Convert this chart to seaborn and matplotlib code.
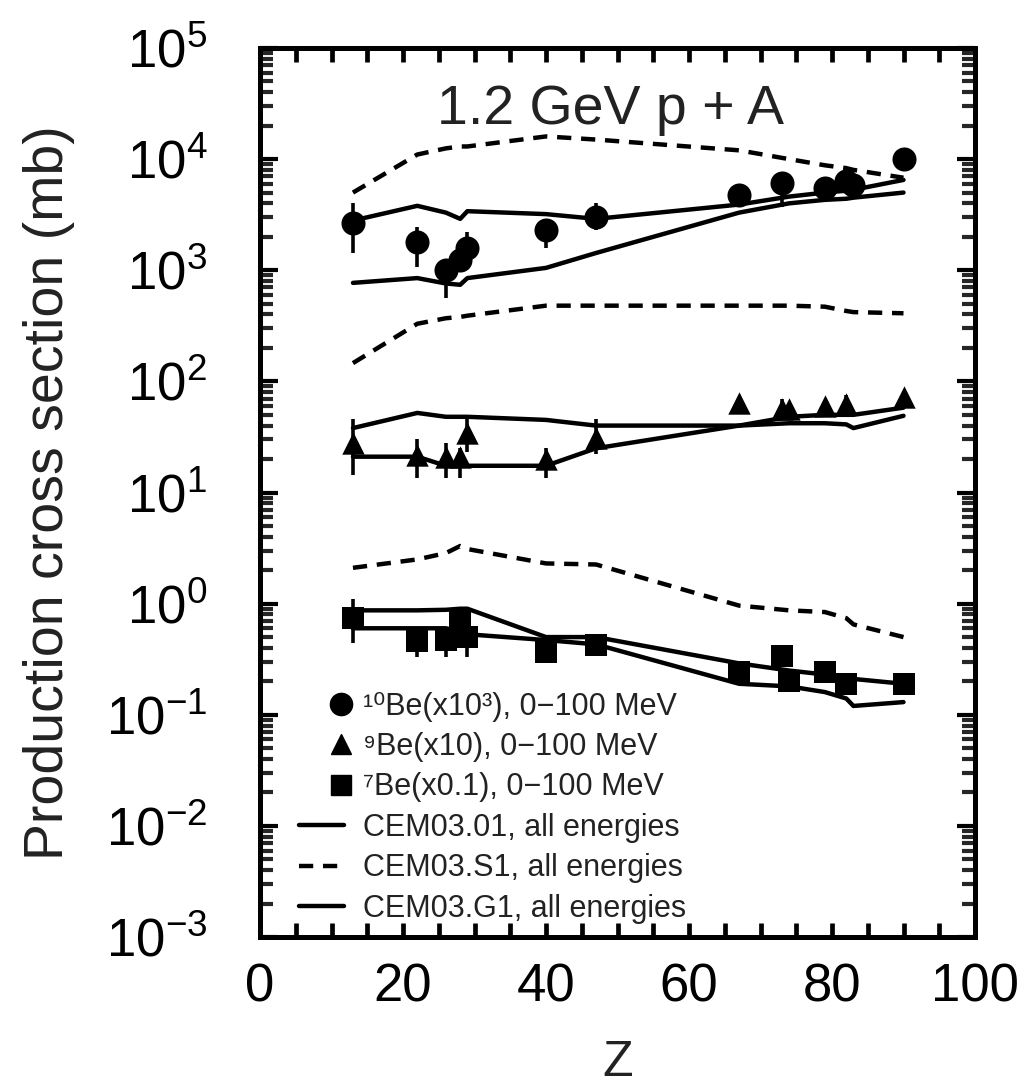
import numpy as np
import pandas as pd
import matplotlib
matplotlib.use("Agg")
import matplotlib.pyplot as plt
import seaborn as sns
from matplotlib.lines import Line2D
from matplotlib.ticker import MultipleLocator, LogLocator, NullFormatter

# ---------------- data ----------------
# model calculation nodes (Z of targets)
model_z = [13, 22, 26, 28, 29, 40, 47, 67, 74, 79, 82, 83, 90]

be10_cem01 = [2800, 3800, 3300, 2900, 3400, 3200, 2900, 3900, 4600, 5000, 5200, 5300, 6500]
be10_g1 = [770, 850, 760, 740, 850, 1050, 1430, 3300, 4000, 4300, 4400, 4500, 5000]
be10_s1 = [5000, 11000, 12500, 13000, 13000, 16000, 15000, 12000, 10000, 8800, 8300, 8000, 6800]

be9_cem01 = [38, 52, 48, 48, 48, 45, 40, 40, 48, 50, 50, 50, 58]
be9_g1 = [21, 21, 17.4, 17.4, 17.4, 17.4, 25, 40, 42, 42, 41, 38, 49]
be9_s1 = [146, 330, 370, 380, 390, 480, 480, 480, 480, 470, 430, 420, 410]

be7_cem01 = [0.87, 0.87, 0.88, 0.90, 0.90, 0.50, 0.50, 0.29, 0.25, 0.23, 0.21, 0.21, 0.19]
be7_g1 = [0.60, 0.60, 0.60, 0.56, 0.53, 0.47, 0.43, 0.19, 0.18, 0.16, 0.14, 0.12, 0.13]
be7_s1 = [2.1, 2.5, 2.85, 3.3, 3.1, 2.3, 2.25, 0.96, 0.87, 0.84, 0.74, 0.65, 0.50]

# measured data
be10_z = [13, 22, 26, 28, 29, 40, 47, 67, 73, 79, 82, 83, 90]
be10_val = [2660, 1800, 1000, 1240, 1590, 2300, 3000, 4750, 6100, 5500, 6400, 5900, 10000]
be10_lo = [1430, 1070, 565, 1000, 1300, 1580, 2300, 4200, 3700, 4800, 5600, 5200, 9000]
be10_hi = [4030, 2460, 1150, 1500, 2230, 2700, 4040, 5400, 7700, 6300, 7200, 6600, 11200]

be9_z = [13, 22, 26, 28, 29, 40, 47, 67, 73, 74, 79, 82, 90]
be9_val = [28, 21.7, 21, 21, 34, 20, 31, 64, 56, 56, 60, 62, 72]
be9_lo = [14.3, 13.5, 13.5, 13.5, 23, 13.5, 22, 58, 50, 50, 54, 56, 66]
be9_hi = [45.7, 30, 28, 25, 47, 25, 46, 70, 70, 62, 66, 75, 80]

be7_z = [13, 22, 26, 28, 29, 40, 47, 67, 73, 74, 79, 82, 90]
be7_val = [0.74, 0.46, 0.47, 0.70, 0.50, 0.37, 0.42, 0.24, 0.34, 0.20, 0.24, 0.19, 0.19]
be7_lo = [0.44, 0.33, 0.33, 0.55, 0.33, 0.33, 0.38, 0.22, 0.30, 0.18, 0.22, 0.17, 0.17]
be7_hi = [1.10, 0.55, 0.55, 0.80, 0.60, 0.41, 0.47, 0.26, 0.38, 0.22, 0.26, 0.21, 0.21]

legend_labels = [
    "\u00b9\u2070Be(x10\u00b3), 0\u2212100 MeV",
    "\u2079Be(x10), 0\u2212100 MeV",
    "\u2077Be(x0.1), 0\u2212100 MeV",
    "CEM03.01, all energies",
    "CEM03.S1, all energies",
    "CEM03.G1, all energies",
]

# ---------------- style ----------------
sns.set_theme(style="ticks")
plt.rcParams["font.family"] = ["Liberation Sans", "DejaVu Sans"]
plt.rcParams["mathtext.fontset"] = "custom"
plt.rcParams["mathtext.rm"] = "Liberation Sans"
plt.rcParams["mathtext.it"] = "Liberation Sans:italic"
plt.rcParams["mathtext.bf"] = "Liberation Sans:bold"

fig = plt.figure(figsize=(10.32, 10.85), dpi=100)
ax = fig.add_axes([260 / 1032, 1 - 937 / 1085, 715 / 1032, 889 / 1085])

LW = 3.2
DASH = (3.2, 2.2)

models = [
    (be10_cem01, "-"), (be10_g1, "-"), (be10_s1, "--"),
    (be9_cem01, "-"), (be9_g1, "-"), (be9_s1, "--"),
    (be7_cem01, "-"), (be7_g1, "-"), (be7_s1, "--"),
]
for vals, ls in models:
    sns.lineplot(x=model_z, y=vals, color="black", lw=LW, ax=ax, zorder=2)
    line = ax.lines[-1]
    if ls == "--":
        line.set_dashes(DASH)

data = [
    (be10_z, be10_val, be10_lo, be10_hi, "o", 300),
    (be9_z, be9_val, be9_lo, be9_hi, "^", 260),
    (be7_z, be7_val, be7_lo, be7_hi, "s", 230),
]
for z, v, lo, hi, m, s in data:
    v = np.array(v); lo = np.array(lo); hi = np.array(hi)
    ax.errorbar(z, v, yerr=[v - lo, hi - v], fmt="none", ecolor="black",
                elinewidth=2.6, capsize=0, zorder=3)
    sns.scatterplot(x=z, y=v, marker=m, s=s, color="black", edgecolor="black",
                    linewidth=0, ax=ax, zorder=4, legend=False)

ax.set_yscale("log")
ax.set_xlim(0, 100)
ax.set_ylim(1e-3, 1e5)

ax.xaxis.set_major_locator(MultipleLocator(20))
ax.xaxis.set_minor_locator(MultipleLocator(5))
ax.yaxis.set_major_locator(LogLocator(base=10, numticks=20))
ax.yaxis.set_minor_locator(LogLocator(base=10, subs=np.arange(2, 10), numticks=20))
ax.yaxis.set_minor_formatter(NullFormatter())

for sp in ax.spines.values():
    sp.set_linewidth(3.6)
    sp.set_color("black")

ax.tick_params(axis="x", which="both", direction="in", top=True, bottom=True,
               length=10, width=3.4, labelsize=38, pad=18, colors="black")
ax.tick_params(axis="y", which="major", direction="in", left=True, right=True,
               length=13, width=3.0, labelsize=38, pad=38, colors="black")
ax.tick_params(axis="y", which="minor", direction="in", left=True, right=True,
               length=9.5, width=3.0)

ax.set_xlabel("Z", fontsize=36, labelpad=20, color="#222222")
ax.set_ylabel("Production cross section (mb)", fontsize=40, labelpad=22, color="#222222")

ax.text(0.49, 0.96, "1.2 GeV p + A", transform=ax.transAxes, ha="center",
        va="top", fontsize=40, color="#222222")

handles = [
    Line2D([], [], marker="o", ls="", color="black", ms=16),
    Line2D([], [], marker="^", ls="", color="black", ms=15),
    Line2D([], [], marker="s", ls="", color="black", ms=15),
    Line2D([], [], ls="-", color="black", lw=LW),
    Line2D([], [], ls="--", color="black", lw=LW, dashes=DASH),
    Line2D([], [], ls="-", color="black", lw=LW),
]
leg = ax.legend(handles, legend_labels, loc="lower left", bbox_to_anchor=(0.055, 0.015),
                frameon=False, fontsize=22, handlelength=1.47, handletextpad=0.6,
                labelspacing=0.34, borderpad=0, borderaxespad=0)
for t in leg.get_texts():
    t.set_color("#222222")
# put the data markers at the right end of the handle area, as in the original
for h in leg.legend_handles[:3]:
    xd = np.asarray(h.get_xdata(), dtype=float)
    h.set_xdata(xd + (xd[-1] - xd[1]) * 0.85)

fig.savefig("out.png", dpi=100)
